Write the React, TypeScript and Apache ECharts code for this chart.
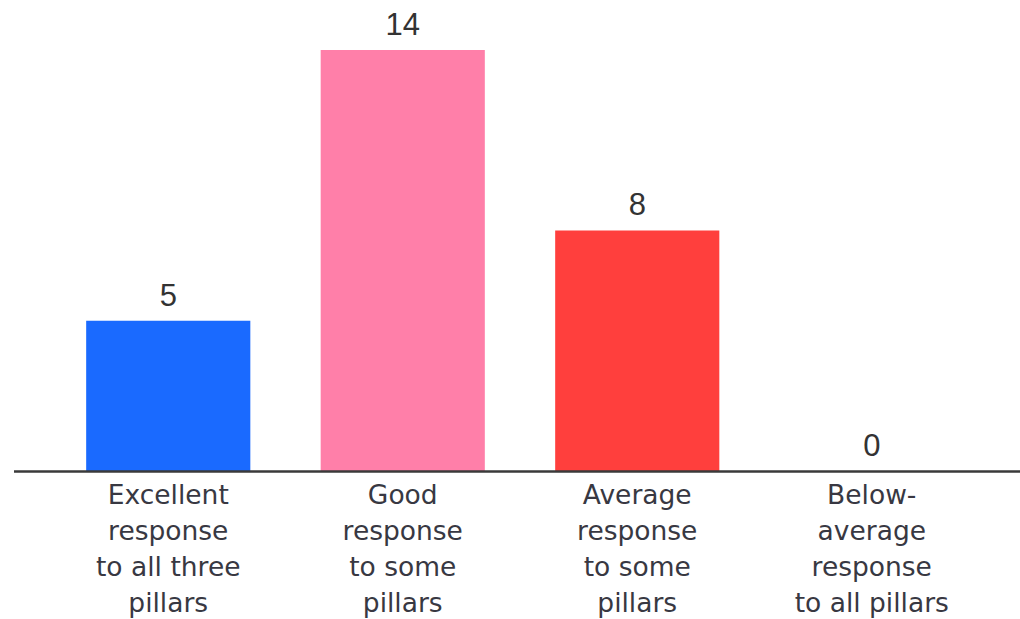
import React, { useEffect, useRef } from "react";
import * as echarts from "echarts";

const categories = [
  "Excellent\nresponse\nto all three\npillars",
  "Good\nresponse\nto some\npillars",
  "Average\nresponse\nto some\npillars",
  "Below-\naverage\nresponse\nto all pillars",
];
const values = [5, 14, 8, 0];
const barColors = ["#1a6aff", "#ff7fa9", "#ff3f3d", "#888888"];

export default function App() {
  const ref = useRef<HTMLDivElement>(null);
  useEffect(() => {
    if (!ref.current) return;
    const chart = echarts.init(ref.current, undefined, { renderer: "svg" });
    chart.setOption({
      animation: false,
      backgroundColor: "#ffffff",
      grid: {
        left: 51,
        right: 31,
        top: 50,
        bottom: 148,
        containLabel: false,
        outerBoundsMode: "none",
      },
      xAxis: {
        type: "category",
        data: categories,
        axisLine: { show: false },
        axisTick: { show: false },
        axisLabel: {
          interval: 0,
          margin: 5,
          fontSize: 26.5,
          lineHeight: 36,
          color: "#383842",
          fontFamily: "DejaVu Sans",
        },
      },
      yAxis: {
        type: "value",
        min: 0,
        max: 14,
        show: false,
        splitLine: { show: false },
      },
      graphic: [
        {
          type: "line",
          shape: { x1: 14, y1: 471.5, x2: 1020, y2: 471.5 },
          style: { stroke: "#3a3a3a", lineWidth: 2.5 },
          z: 10,
        },
      ],
      series: [
        {
          type: "bar",
          barCategoryGap: "30%",
          data: values.map((v, i) => ({ value: v, itemStyle: { color: barColors[i] } })),
          label: {
            show: true,
            position: "top",
            distance: 10,
            fontSize: 31,
            color: "#333333",
            fontFamily: "Liberation Sans",
          },
        },
      ],
    });
    return () => chart.dispose();
  }, []);
  return (
    <div
      ref={ref}
      style={{ position: "fixed", left: 0, top: 0, width: 1020, height: 619 }}
    />
  );
}
